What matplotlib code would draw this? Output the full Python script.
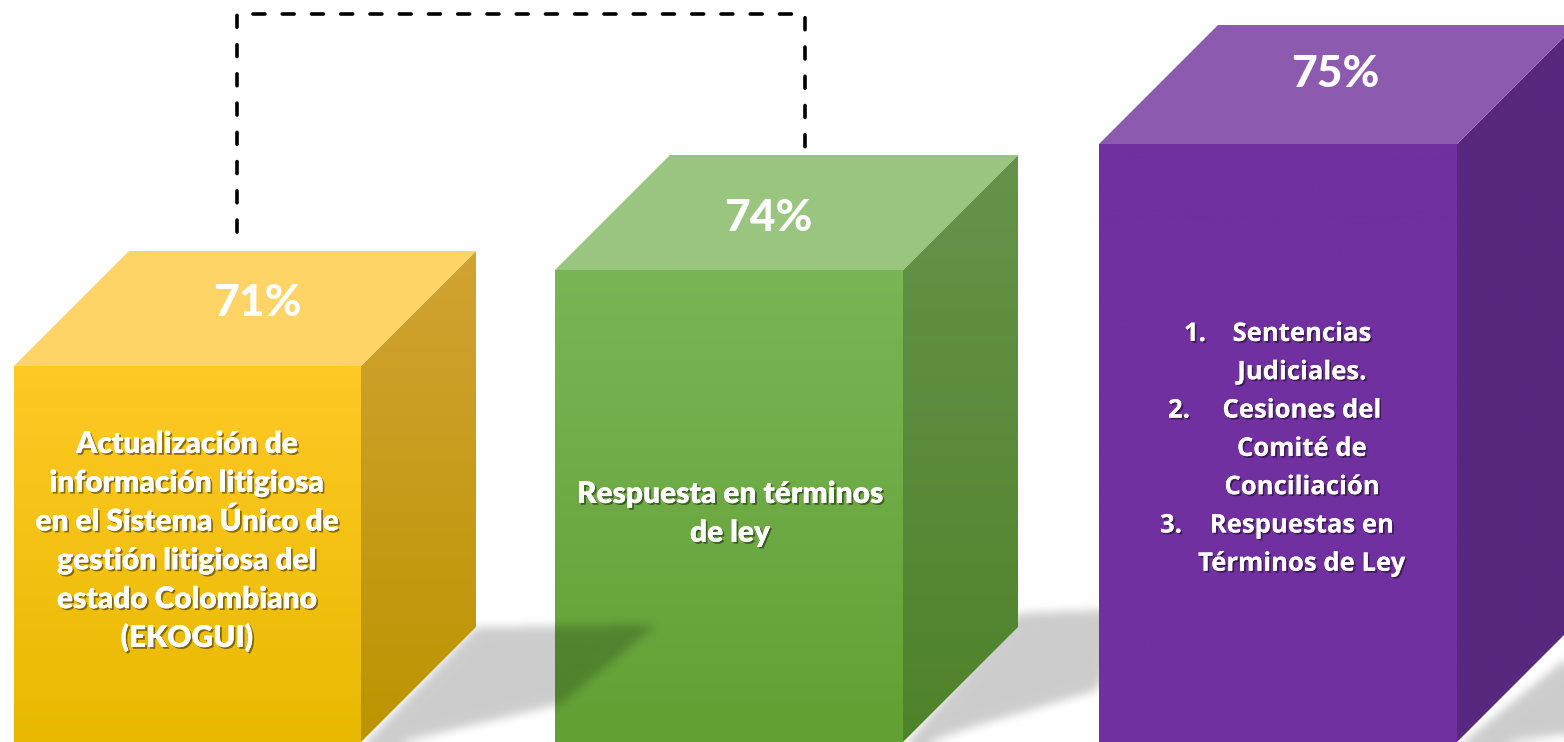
import numpy as np
import matplotlib.pyplot as plt
import matplotlib.patheffects as pe
from matplotlib.patches import Polygon
from matplotlib.path import Path
from matplotlib.colors import to_rgb

# datos
valores = [71, 74, 75]
alturas = [376, 472, 598]   # altura de la cara frontal de cada caja
textos = [
    ["Actualización de", "información litigiosa", "en el Sistema Único de",
     "gestión litigiosa del", "estado Colombiano", "(EKOGUI)"],
    ["Respuesta en términos", "de ley"],
]
items = [("1.", ["Sentencias", "Judiciales."]),
         ("2.", ["Cesiones del", "Comité de", "Conciliación"]),
         ("3.", ["Respuestas en", "Términos de Ley"])]

# colores
frente_sup = ['#FFC926', '#7AB555', '#7030A0']
frente_inf = ['#E8B900', '#62A034', '#7030A0']
lado_sup = ['#D1A333', '#66934B', '#58287F']
lado_inf = ['#BC9400', '#4F832A', '#58287F']
tapa = ['#FFD466', '#99C57E', '#8C5BB0']

# geometria
W, H = 1564, 742
izq = [14, 555, 1099]
ancho = [347, 348, 358]
prof = [115, 115, 119]

fig = plt.figure(figsize=(W / 100, H / 100), dpi=100)
ax = fig.add_axes([0, 0, 1, 1])
ax.set_xlim(0, W)
ax.set_ylim(0, H)
ax.axis('off')


def cara(pts, c1, c2, z):
    poly = Polygon(pts, closed=True, fc='none', ec='none', zorder=z)
    ax.add_patch(poly)
    xs = [p[0] for p in pts]
    ys = [p[1] for p in pts]
    t = np.linspace(0, 1, 256)[:, None]
    img = (np.array(to_rgb(c1)) * (1 - t) + np.array(to_rgb(c2)) * t)[:, None, :]
    im = ax.imshow(img, extent=(min(xs), max(xs), min(ys), max(ys)), origin='upper',
                   aspect='auto', zorder=z, interpolation='bilinear')
    im.set_clip_path(poly)


def desenfocar(a, r):
    for eje in (0, 1):
        for _ in range(3):
            pad = [(0, 0), (0, 0)]
            pad[eje] = (r + 1, r)
            c = np.cumsum(np.pad(a, pad, mode='edge'), axis=eje)
            n = a.shape[eje]
            a = (np.take(c, range(2 * r + 1, n + 2 * r + 1), axis=eje)
                 - np.take(c, range(0, n), axis=eje)) / (2 * r + 1)
    return a


gx, gy = np.meshgrid(np.arange(W) + 0.5, np.arange(H) + 0.5)
malla = np.column_stack([gx.ravel(), gy.ravel()])


def sombra(polys, z):
    m = np.zeros(gx.shape)
    for p in polys:
        m = np.maximum(m, Path(p).contains_points(malla).reshape(gx.shape))
    m = desenfocar(m, 4)
    rgba = np.zeros((H, W, 4))
    rgba[..., 3] = 0.2 * m
    ax.imshow(rgba, extent=(0, W, 0, H), origin='lower', aspect='auto', zorder=z)


# sombras proyectadas
R = [izq[i] + ancho[i] for i in range(3)]
d = prof
s0 = [(R[0], -5), (R[0] + d[0], d[0]), (R[0] + d[0] + 180, d[0] + 2),
      (R[0] + 200, 38), (R[0] + 20, -5)]
s1 = [(R[1], -5), (R[1] + d[1], d[1] + 14), (R[1] + d[1] + 110, d[1] + 18),
      (R[1] + 195, 52), (R[1] + 80, 18), (R[1] + 10, -5)]
s2 = [(R[2], -5), (R[2] + d[2] + 40, d[2] + 5), (R[2] + 220, d[2] + 5),
      (R[2] + 220, 22), (R[2] + 10, -5)]
sombra([s1, s2], 1)
sombra([s0], 3)

# linea punteada entre la caja 1 y la caja 2
x0 = izq[0] + 223
x1 = izq[1] + 250
ytop = H - 14
ax.plot([x0, x0, x1, x1], [alturas[0] + 134, ytop, ytop, alturas[1] + 100],
        color='black', lw=2.6, dashes=(3.3, 4.8), dash_capstyle='round',
        solid_joinstyle='miter', zorder=1.5)

# cajas
zs = [4, 2, 2]
for i in range(3):
    l, w, h, dd = izq[i], ancho[i], alturas[i], prof[i]
    z = zs[i]
    cara([(l, 0), (l + w, 0), (l + w, h), (l, h)], frente_sup[i], frente_inf[i], z)
    cara([(l + w, 0), (l + w + dd, dd), (l + w + dd, h + dd), (l + w, h)],
         lado_sup[i], lado_inf[i], z)
    ax.add_patch(Polygon([(l, h), (l + w, h), (l + w + dd, h + dd), (l + dd, h + dd)],
                         closed=True, fc=tapa[i], ec='none', zorder=z + 0.1))

# textos
sombra_txt = [pe.withSimplePatchShadow(offset=(1.3, -1.3), shadow_rgbFace='black', alpha=0.45),
              pe.Normal()]
pct_x = [257, 768, 1335]
pct_base = [316, 231, 87]
for i, v in enumerate(valores):
    ax.text(pct_x[i], H - pct_base[i], f"{v}%", color='white',
            fontsize=32, fontweight='black', family='Lato', ha='center',
            va='baseline', zorder=10)

centros = [187, 730]
base0 = [H - 453, H - 503]
for i, lineas in enumerate(textos):
    for k, s in enumerate(lineas):
        ax.text(centros[i], base0[i] - k * 38.8, s, color='white', fontsize=21.5,
                fontweight='heavy', family='Lato', ha='center', va='baseline',
                path_effects=sombra_txt, zorder=10)

num_x = [1184, 1168, 1160]
k = 0
for j, (num, lineas) in enumerate(items):
    yb = H - 341 - k * 38.3
    ax.text(num_x[j], yb, num, color='white', fontsize=18.5, fontweight='bold',
            family='Open Sans', ha='left', va='baseline',
            path_effects=sombra_txt, zorder=10)
    for s in lineas:
        yb = H - 341 - k * 38.3
        ax.text(1302, yb, s, color='white', fontsize=18.5, fontweight='bold',
                family='Open Sans', ha='center', va='baseline',
                path_effects=sombra_txt, zorder=10)
        k += 1

ax.set_xlim(0, W)
ax.set_ylim(0, H)
fig.savefig('out.png', dpi=100)
